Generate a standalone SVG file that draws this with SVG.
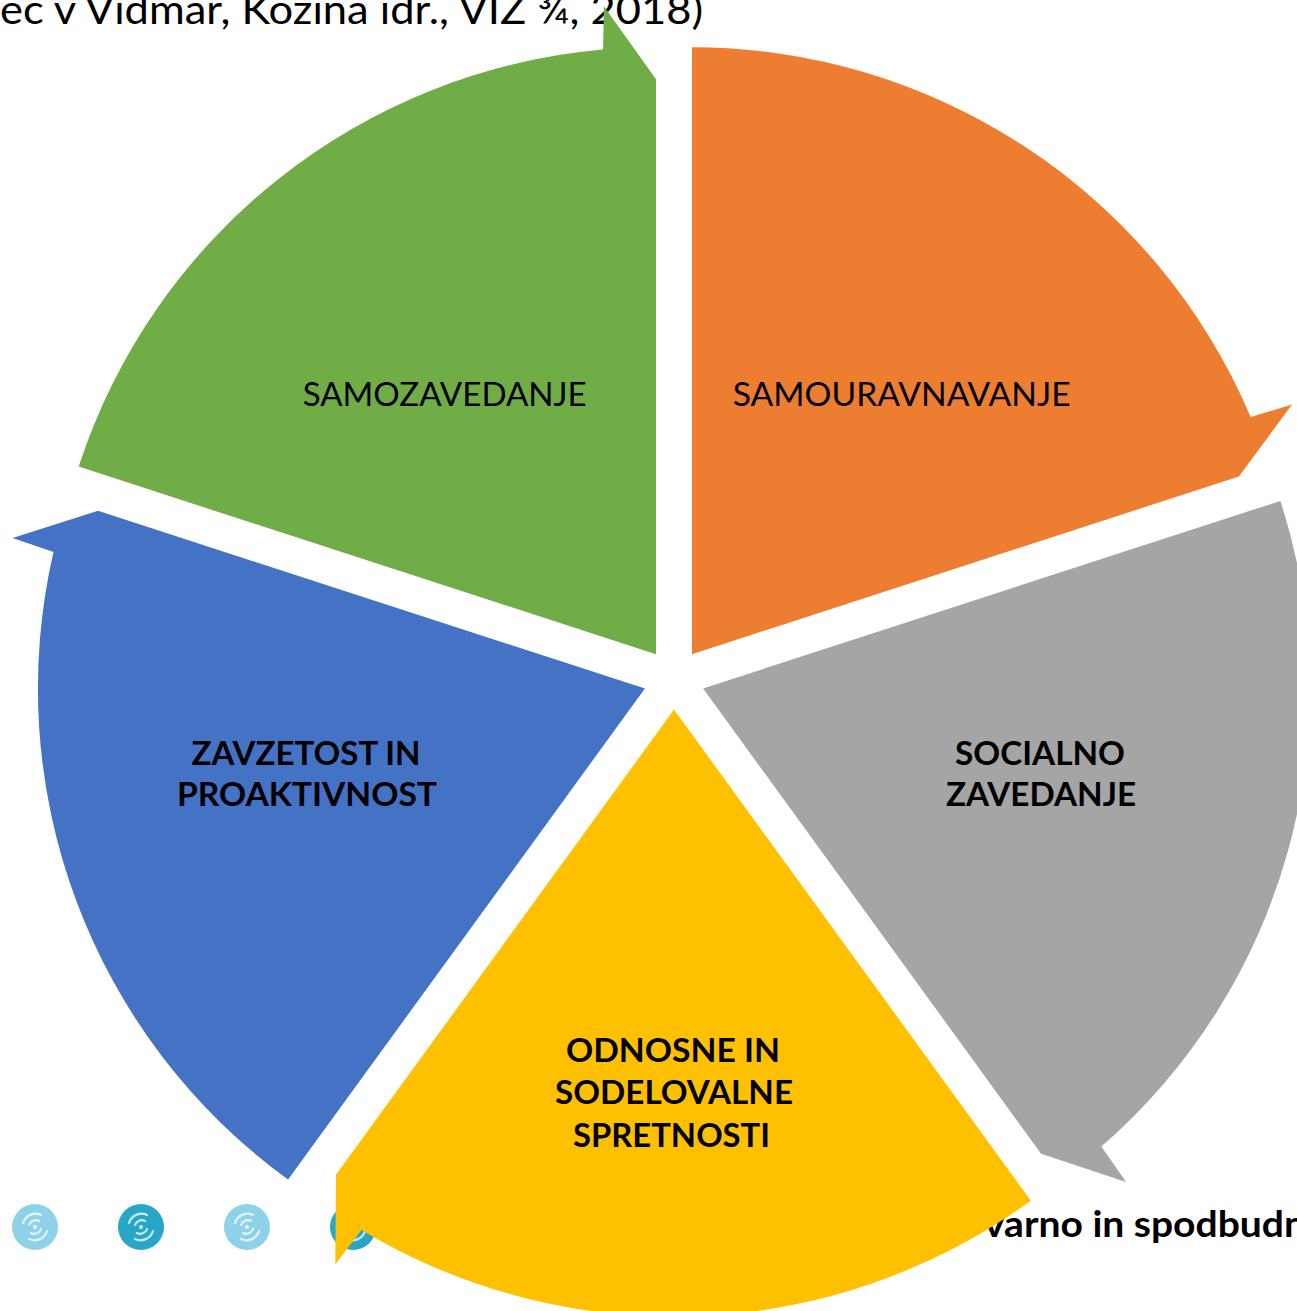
<svg xmlns="http://www.w3.org/2000/svg" width="1297" height="1311" viewBox="0 0 1297 1311">
  <style>
    .bg { fill: #ffffff; }
    .lbl { font-family: Lato, "Open Sans", "Liberation Sans", sans-serif; font-size: 33px; fill: #000000; text-anchor: middle; }
    .bold { font-weight: bold; }
    .note { font-family: Lato, "Open Sans", "Liberation Sans", sans-serif; fill: #000000; }
    .dot-light { fill: #8dd2e8; }
    .dot-dark { fill: #27a6c6; }
    .swirl { fill: none; stroke: #ffffff; stroke-opacity: 0.75; stroke-width: 2.2; stroke-linecap: round; }
  </style>
  <rect class="bg" x="0" y="0" width="1297" height="1311"/>

  <!-- background texts (behind the cycle) -->
  <text class="note" x="0" y="24" font-size="40" textLength="703" lengthAdjust="spacingAndGlyphs">ec v Vidmar, Kozina idr., VIZ ¾, 2018)</text>
  <text class="note" x="984" y="1237" font-size="36" font-weight="bold" textLength="322" lengthAdjust="spacingAndGlyphs">varno in spodbudn</text>

  <!-- decorative dots -->
  <g id="dots">
    <g transform="translate(35,1227)">
      <circle class="dot-light" r="23"/>
      <path class="swirl" d="M -12 -4 A 13 13 0 0 1 6 -12 M 12 4 A 13 13 0 0 1 -6 12 M -6 -2 A 7 7 0 0 1 4 -6 M 6 2 A 7 7 0 0 1 -4 6"/>
      <circle r="2" fill="#ffffff" fill-opacity="0.8"/>
    </g>
    <g transform="translate(141,1227)">
      <circle class="dot-dark" r="23"/>
      <path class="swirl" d="M -12 -4 A 13 13 0 0 1 6 -12 M 12 4 A 13 13 0 0 1 -6 12 M -6 -2 A 7 7 0 0 1 4 -6 M 6 2 A 7 7 0 0 1 -4 6"/>
      <circle r="2" fill="#ffffff" fill-opacity="0.8"/>
    </g>
    <g transform="translate(247,1227)">
      <circle class="dot-light" r="23"/>
      <path class="swirl" d="M -12 -4 A 13 13 0 0 1 6 -12 M 12 4 A 13 13 0 0 1 -6 12 M -6 -2 A 7 7 0 0 1 4 -6 M 6 2 A 7 7 0 0 1 -4 6"/>
      <circle r="2" fill="#ffffff" fill-opacity="0.8"/>
    </g>
    <g transform="translate(353,1227)">
      <circle class="dot-dark" r="23"/>
      <path class="swirl" d="M -12 -4 A 13 13 0 0 1 6 -12 M 12 4 A 13 13 0 0 1 -6 12 M -6 -2 A 7 7 0 0 1 4 -6 M 6 2 A 7 7 0 0 1 -4 6"/>
      <circle r="2" fill="#ffffff" fill-opacity="0.8"/>
    </g>
  </g>

  <g id="connectors"></g>

  <g id="node-samozavedanje">
    <path fill="#70AD47" d="M 656 654.2 L 78.7 466.6 A 607 607 0 0 1 603.1 49.5 L 603.9 6.3 L 656 79.2 Z"/>
    <text class="lbl" x="444.7" y="406" textLength="284" lengthAdjust="spacingAndGlyphs">SAMOZAVEDANJE</text>
  </g>

  <g id="node-samouravnavanje">
    <path fill="#ED7D31" d="M 692 654.2 L 692 47.2 A 607 607 0 0 1 1250.7 417 L 1292.1 404.4 L 1238.9 476.5 Z"/>
    <text class="lbl" x="901.7" y="406" textLength="338" lengthAdjust="spacingAndGlyphs">SAMOURAVNAVANJE</text>
  </g>

  <g id="node-socialno-zavedanje">
    <path fill="#A5A5A5" d="M 703.1 688.5 L 1280.4 500.9 A 607 607 0 0 1 1101.3 1146.6 L 1126.1 1182 L 1041.1 1153.7 Z"/>
    <text class="lbl bold" x="1040" y="765" textLength="170" lengthAdjust="spacingAndGlyphs">SOCIALNO</text>
    <text class="lbl bold" x="1041" y="806" textLength="190" lengthAdjust="spacingAndGlyphs">ZAVEDANJE</text>
  </g>

  <g id="node-odnosne">
    <path fill="#FFC000" d="M 674 709.6 L 1030.8 1200.7 A 607 607 0 0 1 361.4 1229.9 L 335.3 1264.4 L 336 1174.8 Z"/>
    <text class="lbl bold" x="673" y="1062" textLength="214" lengthAdjust="spacingAndGlyphs">ODNOSNE IN</text>
    <text class="lbl bold" x="674" y="1104" textLength="238" lengthAdjust="spacingAndGlyphs">SODELOVALNE</text>
    <text class="lbl bold" x="671.5" y="1147" textLength="197" lengthAdjust="spacingAndGlyphs">SPRETNOSTI</text>
  </g>

  <g id="node-zavzetost">
    <path fill="#4472C4" d="M 644.9 688.5 L 288.1 1179.6 A 607 607 0 0 1 53.5 551.9 L 12.6 537.9 L 98 510.8 Z"/>
    <text class="lbl bold" x="306" y="765" textLength="229" lengthAdjust="spacingAndGlyphs">ZAVZETOST IN</text>
    <text class="lbl bold" x="307" y="806" textLength="260" lengthAdjust="spacingAndGlyphs">PROAKTIVNOST</text>
  </g>
</svg>
